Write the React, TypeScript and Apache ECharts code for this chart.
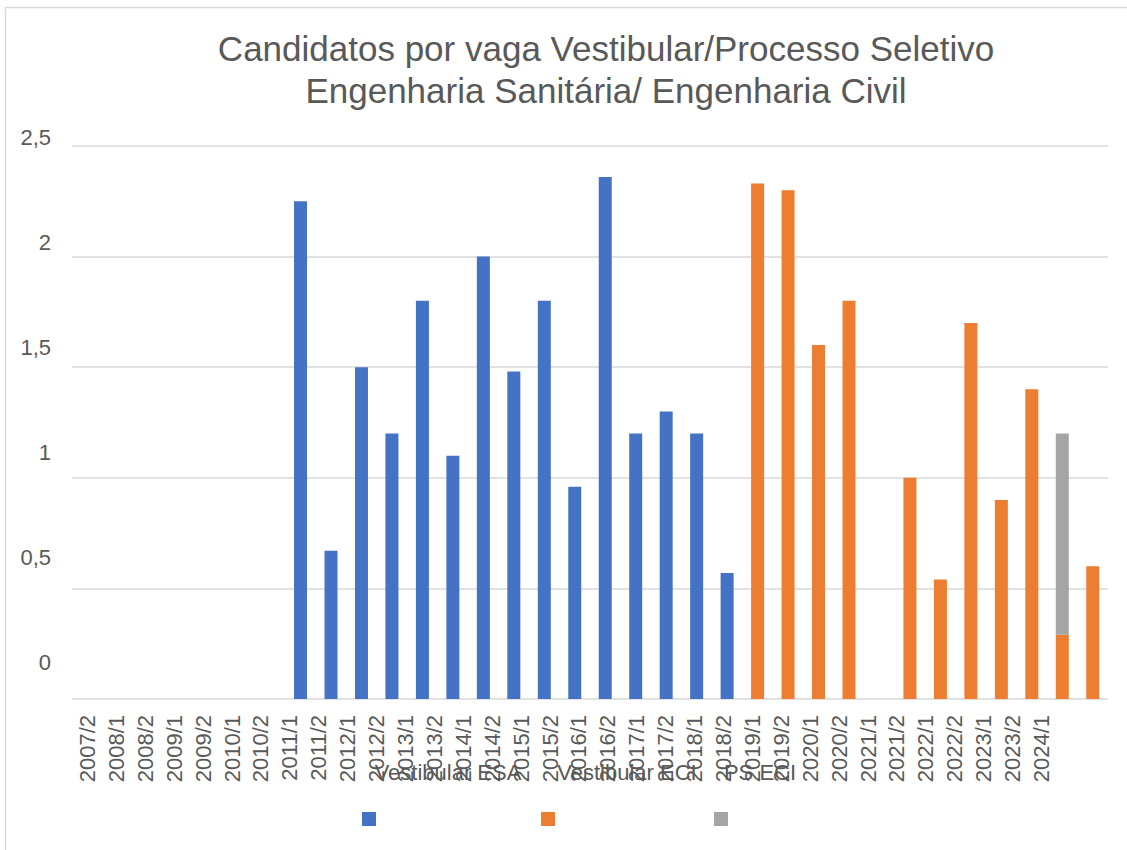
import React, { useEffect, useRef } from 'react';
import * as echarts from 'echarts';

const categories = [
  '2007/2', '2008/1', '2008/2', '2009/1', '2009/2', '2010/1', '2010/2', '2011/1', '2011/2',
  '2012/1', '2012/2', '2013/1', '2013/2', '2014/1', '2014/2', '2015/1', '2015/2', '2016/1',
  '2016/2', '2017/1', '2017/2', '2018/1', '2018/2', '2019/1', '2019/2', '2020/1', '2020/2',
  '2021/1', '2021/2', '2022/1', '2022/2', '2023/1', '2023/2', '2024/1',
];

const vestibularESA = [
  null, null, null, null, null, null, null,
  2.25, 0.67, 1.5, 1.2, 1.8, 1.1, 2.0, 1.48, 1.8, 0.96, 2.36, 1.2, 1.3, 1.2, 0.57,
  null, null, null, null, null, null, null, null, null, null, null, null,
];

const vestibularECI = [
  null, null, null, null, null, null, null, null, null, null, null,
  null, null, null, null, null, null, null, null, null, null, null,
  2.33, 2.3, 1.6, 1.8, null, 1.0, 0.54, 1.7, 0.9, 1.4, 0.29, 0.6,
];

const psECI = [
  null, null, null, null, null, null, null, null, null, null, null,
  null, null, null, null, null, null, null, null, null, null, null,
  null, null, null, null, null, null, null, null, null, null, 0.91, null,
];

const seriesNames = ['Vestibular ESA', 'Vestibular ECI', 'PS ECI'];
const seriesColors = ['#4472C4', '#ED7D31', '#A5A5A5'];
const yMin = 0;
const yMax = 2.5;
const yStep = 0.5;

const titleText = 'Candidatos por vaga Vestibular/Processo Seletivo\nEngenharia Sanitária/ Engenharia Civil';

const FONT = "'Liberation Sans', Arial, sans-serif";
const TEXT = '#595959';
const GRID = '#D9D9D9';

export default function App() {
  const ref = useRef<HTMLDivElement>(null);

  useEffect(() => {
    if (!ref.current) return;
    const chart = echarts.init(ref.current, undefined, { renderer: 'svg' });
    const fmt = (v: number) => String(v).replace('.', ',');

    const legendSquaresX = [362, 541, 714];
    const legendTextX = [448, 627, 760];

    const graphic: any[] = [
      {
        type: 'rect',
        shape: { x: 5.5, y: 7.5, width: 1300, height: 1000 },
        style: { fill: 'none', stroke: GRID, lineWidth: 1.5 },
        silent: true,
        z: -10,
      },
    ];
    seriesNames.forEach((name, i) => {
      graphic.push({
        type: 'text',
        x: legendTextX[i],
        y: 772,
        style: {
          text: name,
          fill: TEXT,
          font: `22px ${FONT}`,
          textAlign: 'center',
          textVerticalAlign: 'middle',
        },
      });
      graphic.push({
        type: 'rect',
        shape: { x: legendSquaresX[i], y: 812, width: 14, height: 14 },
        style: { fill: seriesColors[i] },
      });
    });

    chart.setOption({
      animation: false,
      backgroundColor: '#ffffff',
      title: {
        text: titleText,
        left: 606,
        top: 27,
        padding: 0,
        textAlign: 'center',
        textStyle: {
          fontSize: 35,
          fontWeight: 'normal',
          color: TEXT,
          fontFamily: FONT,
          lineHeight: 42,
        },
      },
      grid: [
        { left: 72, top: 146, width: 1036, height: 553 },
        { left: 73, top: 137, width: 983, height: 525 },
      ],
      xAxis: [
        {
          type: 'category',
          gridIndex: 0,
          data: categories,
          axisLine: { show: false },
          axisTick: { show: false },
          axisLabel: { show: false },
        },
        {
          type: 'category',
          gridIndex: 1,
          data: categories,
          axisLine: { show: false },
          axisTick: { show: false },
          axisLabel: {
            interval: 0,
            rotate: 90,
            margin: 53,
            color: TEXT,
            fontSize: 22,
            fontFamily: FONT,
          },
        },
      ],
      yAxis: [
        {
          type: 'value',
          gridIndex: 0,
          min: yMin,
          max: yMax,
          interval: yStep,
          axisLine: { show: false },
          axisTick: { show: false },
          axisLabel: { show: false },
          splitLine: { lineStyle: { color: GRID, width: 1.5 } },
        },
        {
          type: 'value',
          gridIndex: 1,
          min: yMin,
          max: yMax,
          interval: yStep,
          axisLine: { show: false },
          axisTick: { show: false },
          splitLine: { show: false },
          axisLabel: {
            margin: 22,
            color: TEXT,
            fontSize: 22,
            fontFamily: FONT,
            formatter: fmt,
          },
        },
      ],
      series: [vestibularESA, vestibularECI, psECI].map((d, i) => ({
        name: seriesNames[i],
        type: 'bar',
        stack: 'total',
        xAxisIndex: 0,
        yAxisIndex: 0,
        barWidth: 13,
        data: d,
        itemStyle: { color: seriesColors[i] },
      })),
      graphic,
    });

    return () => chart.dispose();
  }, []);

  return (
    <div
      ref={ref}
      style={{ position: 'fixed', left: 0, top: 0, width: 1127, height: 850, background: '#fff' }}
    />
  );
}
